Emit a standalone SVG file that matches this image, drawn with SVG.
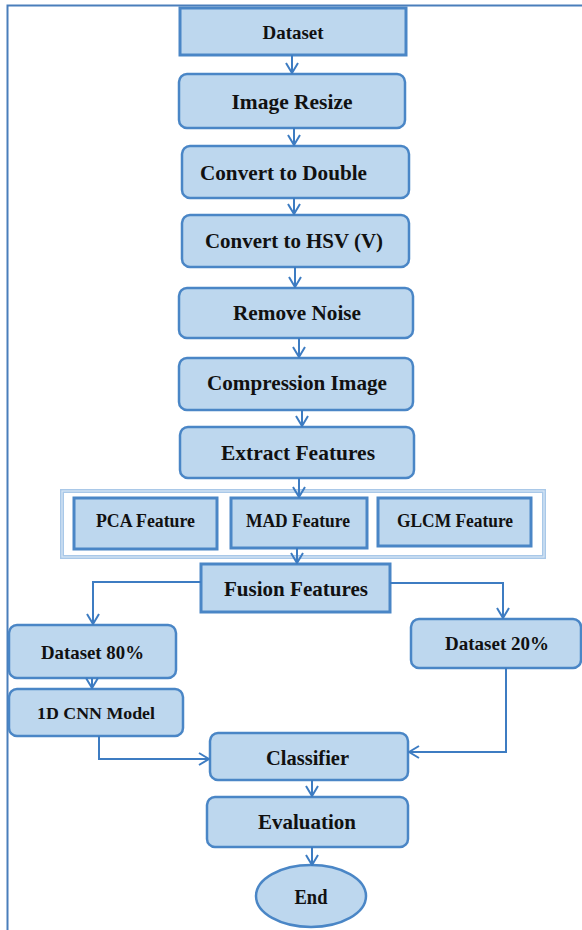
<svg xmlns="http://www.w3.org/2000/svg" width="582" height="930" viewBox="0 0 582 930">
<style>
.box{fill:#bdd7ee;stroke:#4a86c6;stroke-width:2.5}
.sq{fill:#bdd7ee;stroke:#4a86c6;stroke-width:3}
.t{font-family:"Liberation Serif","Times New Roman",serif;font-weight:bold;fill:#111;text-anchor:middle;dominant-baseline:central}
.c{fill:none;stroke:#3d7cc2;stroke-width:2;marker-end:url(#arr)}
</style>
<defs>
<marker id="arr" viewBox="0 0 12 14" refX="11" refY="7" markerWidth="12" markerHeight="14" markerUnits="userSpaceOnUse" orient="auto">
<path d="M1,1 L11,7 L1,13" fill="none" stroke="#3d7cc2" stroke-width="2"/>
</marker>
</defs>
<rect width="582" height="930" fill="#fff"/>
<path d="M7.5,932 V5.5 H584" fill="none" stroke="#4a7ebb" stroke-width="2"/>

<g id="dataset"><rect class="sq" x="180" y="8" width="226" height="47"/><text class="t" x="293" y="32" font-size="19" textLength="61" lengthAdjust="spacingAndGlyphs">Dataset</text></g>
<g id="resize"><rect class="box" x="179" y="74" width="226" height="54" rx="8"/><text class="t" x="292" y="101" font-size="22" textLength="121" lengthAdjust="spacingAndGlyphs">Image Resize</text></g>
<g id="double"><rect class="box" x="182" y="146" width="227" height="52" rx="8"/><text class="t" x="283.5" y="173" font-size="21" textLength="167" lengthAdjust="spacingAndGlyphs">Convert to Double</text></g>
<g id="hsv"><rect class="box" x="182" y="215" width="227" height="52" rx="8"/><text class="t" x="294" y="241" font-size="21" textLength="178" lengthAdjust="spacingAndGlyphs">Convert to HSV (V)</text></g>
<g id="noise"><rect class="box" x="179" y="288" width="234" height="50" rx="8"/><text class="t" x="297" y="313" font-size="21" textLength="128" lengthAdjust="spacingAndGlyphs">Remove Noise</text></g>
<g id="compress"><rect class="box" x="179" y="358" width="234" height="52" rx="8"/><text class="t" x="297" y="383" font-size="21" textLength="180" lengthAdjust="spacingAndGlyphs">Compression Image</text></g>
<g id="extract"><rect class="box" x="180" y="427" width="234" height="51" rx="8"/><text class="t" x="298" y="453" font-size="21" textLength="154" lengthAdjust="spacingAndGlyphs">Extract Features</text></g>

<g id="featgroup">
<rect x="62" y="491" width="482" height="66" fill="#fff" stroke="#a9c8e8" stroke-width="4"/>
<rect x="62" y="491" width="482" height="66" fill="none" stroke="#d8e7f5" stroke-width="1.2"/>
</g>
<g id="pca"><rect class="sq" x="74" y="498" width="143" height="51"/><text class="t" x="145.5" y="521" font-size="18" textLength="99" lengthAdjust="spacingAndGlyphs">PCA Feature</text></g>
<g id="mad"><rect class="sq" x="231" y="498" width="136" height="50"/><text class="t" x="298" y="521" font-size="18" textLength="104" lengthAdjust="spacingAndGlyphs">MAD Feature</text></g>
<g id="glcm"><rect class="sq" x="378" y="498" width="153" height="48"/><text class="t" x="455" y="521" font-size="18" textLength="116" lengthAdjust="spacingAndGlyphs">GLCM Feature</text></g>

<g id="fusion"><rect class="sq" x="201" y="564" width="189" height="48"/><text class="t" x="296" y="588" font-size="22" textLength="144" lengthAdjust="spacingAndGlyphs">Fusion Features</text></g>
<g id="d80"><rect class="box" x="9" y="625" width="167" height="53" rx="8"/><text class="t" x="92.5" y="652" font-size="19" textLength="103" lengthAdjust="spacingAndGlyphs">Dataset 80%</text></g>
<g id="cnn"><rect class="box" x="9" y="689" width="174" height="47" rx="8"/><text class="t" x="96" y="713" font-size="17" textLength="118" lengthAdjust="spacingAndGlyphs">1D CNN Model</text></g>
<g id="d20"><rect class="box" x="411" y="619" width="170" height="49" rx="8"/><text class="t" x="497" y="643" font-size="19" textLength="104" lengthAdjust="spacingAndGlyphs">Dataset 20%</text></g>
<g id="classifier"><rect class="box" x="210" y="733" width="198" height="47" rx="8"/><text class="t" x="307.5" y="758" font-size="21" textLength="83" lengthAdjust="spacingAndGlyphs">Classifier</text></g>
<g id="evaluation"><rect class="box" x="207" y="797" width="201" height="50" rx="8"/><text class="t" x="307" y="822" font-size="21" textLength="98" lengthAdjust="spacingAndGlyphs">Evaluation</text></g>
<g id="end"><ellipse class="box" cx="311" cy="896" rx="55" ry="31"/><text class="t" x="311" y="897" font-size="21" textLength="33" lengthAdjust="spacingAndGlyphs">End</text></g>

<g id="connectors">
<path class="c" d="M292,55 V73"/>
<path class="c" d="M294,128 V145"/>
<path class="c" d="M294,198 V214"/>
<path class="c" d="M295,267 V287"/>
<path class="c" d="M299,338 V357"/>
<path class="c" d="M302,410 V426"/>
<path class="c" d="M299,478 V497"/>
<path class="c" d="M297,548 V563"/>
<path class="c" d="M201,582 H93 V624"/>
<path class="c" d="M390,583 H503 V618"/>
<path class="c" d="M92,678 V688"/>
<path class="c" d="M99,736 V759 H209"/>
<path class="c" d="M506,668 V752 H409"/>
<path class="c" d="M312,780 V796"/>
<path class="c" d="M312,847 V865"/>
</g>
</svg>
